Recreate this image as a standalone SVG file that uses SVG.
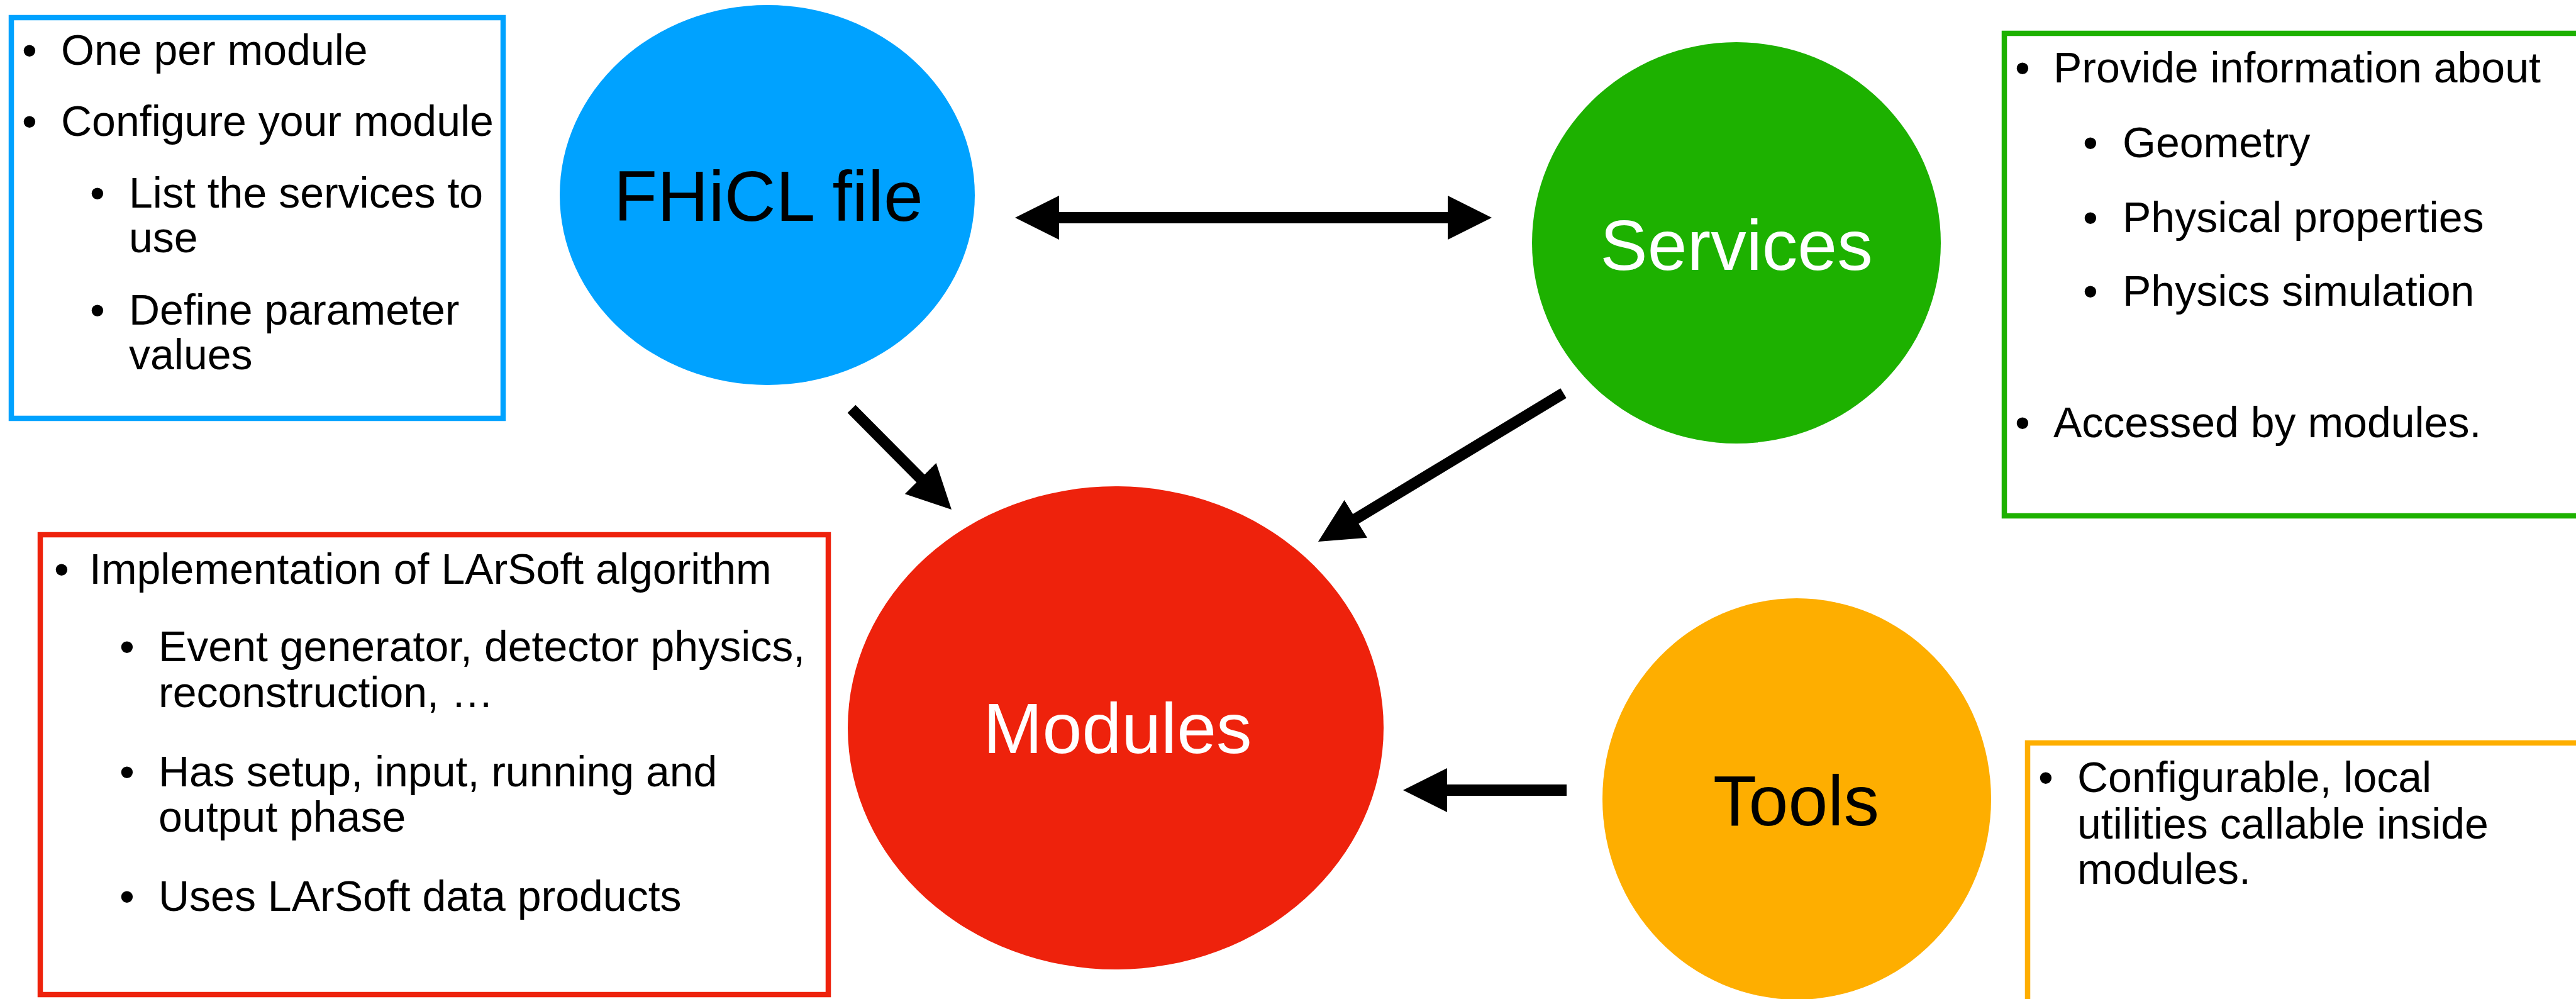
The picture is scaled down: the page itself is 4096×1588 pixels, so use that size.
<svg xmlns="http://www.w3.org/2000/svg" width="4096" height="1588" viewBox="0 0 4096 1588">
<style>
.t{font-family:"Liberation Sans",Arial,Helvetica,sans-serif;font-size:68px;fill:#000}
.lbl{font-family:"Liberation Sans",Arial,Helvetica,sans-serif;font-size:113px;text-anchor:middle}
.box{fill:none;stroke-width:8.5}
.conn{stroke:#000;stroke-width:18;fill:none}
</style>
<defs>
<marker id="ah" markerUnits="userSpaceOnUse" markerWidth="70" markerHeight="70" refX="10" refY="35" orient="auto-start-reverse" viewBox="0 0 70 70">
<path d="M0,0 L70,35 L0,70 Z" fill="#000"/>
</marker>
</defs>
<rect width="4096" height="1588" fill="#fff"/>

<g id="fhicl-notes">
<rect class="box" x="18" y="28" width="782" height="637" stroke="#00A2FF"/>
<text class="t" x="35" y="103">•</text>
<text class="t" x="97" y="103">One per module</text>
<text class="t" x="35" y="216">•</text>
<text class="t" x="97" y="216">Configure your module</text>
<text class="t" x="143" y="330">•</text>
<text class="t" x="205" y="330">List the services to</text>
<text class="t" x="205" y="401">use</text>
<text class="t" x="143" y="516">•</text>
<text class="t" x="205" y="516">Define parameter</text>
<text class="t" x="205" y="587">values</text>
</g>

<g id="services-notes">
<rect class="box" x="3187" y="53" width="940" height="767" stroke="#1DB100"/>
<text class="t" x="3204" y="131">•</text>
<text class="t" x="3265" y="131">Provide information about</text>
<text class="t" x="3312" y="250">•</text>
<text class="t" x="3375" y="250">Geometry</text>
<text class="t" x="3312" y="369">•</text>
<text class="t" x="3375" y="369">Physical properties</text>
<text class="t" x="3312" y="486">•</text>
<text class="t" x="3375" y="486">Physics simulation</text>
<text class="t" x="3204" y="695">•</text>
<text class="t" x="3265" y="695">Accessed by modules.</text>
</g>

<g id="modules-notes">
<rect class="box" x="64" y="850" width="1253" height="731" stroke="#EE220C"/>
<text class="t" x="86" y="928">•</text>
<text class="t" x="142" y="928">Implementation of LArSoft algorithm</text>
<text class="t" x="190" y="1051">•</text>
<text class="t" x="252" y="1051">Event generator, detector physics,</text>
<text class="t" x="252" y="1124">reconstruction, …</text>
<text class="t" x="190" y="1250">•</text>
<text class="t" x="252" y="1250">Has setup, input, running and</text>
<text class="t" x="252" y="1322">output phase</text>
<text class="t" x="190" y="1448">•</text>
<text class="t" x="252" y="1448">Uses LArSoft data products</text>
</g>

<g id="tools-notes">
<rect class="box" x="3224" y="1181" width="903" height="440" stroke="#FEAE00"/>
<text class="t" x="3241" y="1259">•</text>
<text class="t" x="3303" y="1259">Configurable, local</text>
<text class="t" x="3303" y="1333">utilities callable inside</text>
<text class="t" x="3303" y="1405">modules.</text>
</g>

<g id="fhicl">
<ellipse cx="1220" cy="310" rx="330" ry="302" fill="#00A2FF"/>
<text class="lbl" x="1222" y="351" fill="#000">FHiCL file</text>
</g>

<g id="services">
<ellipse cx="2761" cy="386" rx="325" ry="319" fill="#1DB100"/>
<text class="lbl" x="2761" y="429" fill="#fff">Services</text>
</g>

<g id="modules">
<ellipse cx="1774" cy="1157" rx="426" ry="384" fill="#EE220C"/>
<text class="lbl" x="1777" y="1197" fill="#fff">Modules</text>
</g>

<g id="tools">
<ellipse cx="2857" cy="1270" rx="309" ry="319" fill="#FEAE00"/>
<text class="lbl" x="2856" y="1312" fill="#000">Tools</text>
</g>

<g id="connectors">
<line class="conn" x1="1674" y1="346" x2="2312" y2="346" marker-start="url(#ah)" marker-end="url(#ah)"/>
<line class="conn" x1="1354" y1="650" x2="1470.7" y2="767.5" marker-end="url(#ah)"/>
<line class="conn" x1="2486" y1="625" x2="2147.3" y2="829.9" marker-end="url(#ah)"/>
<line class="conn" x1="2491" y1="1256" x2="2291" y2="1256" marker-end="url(#ah)"/>
</g>
</svg>
